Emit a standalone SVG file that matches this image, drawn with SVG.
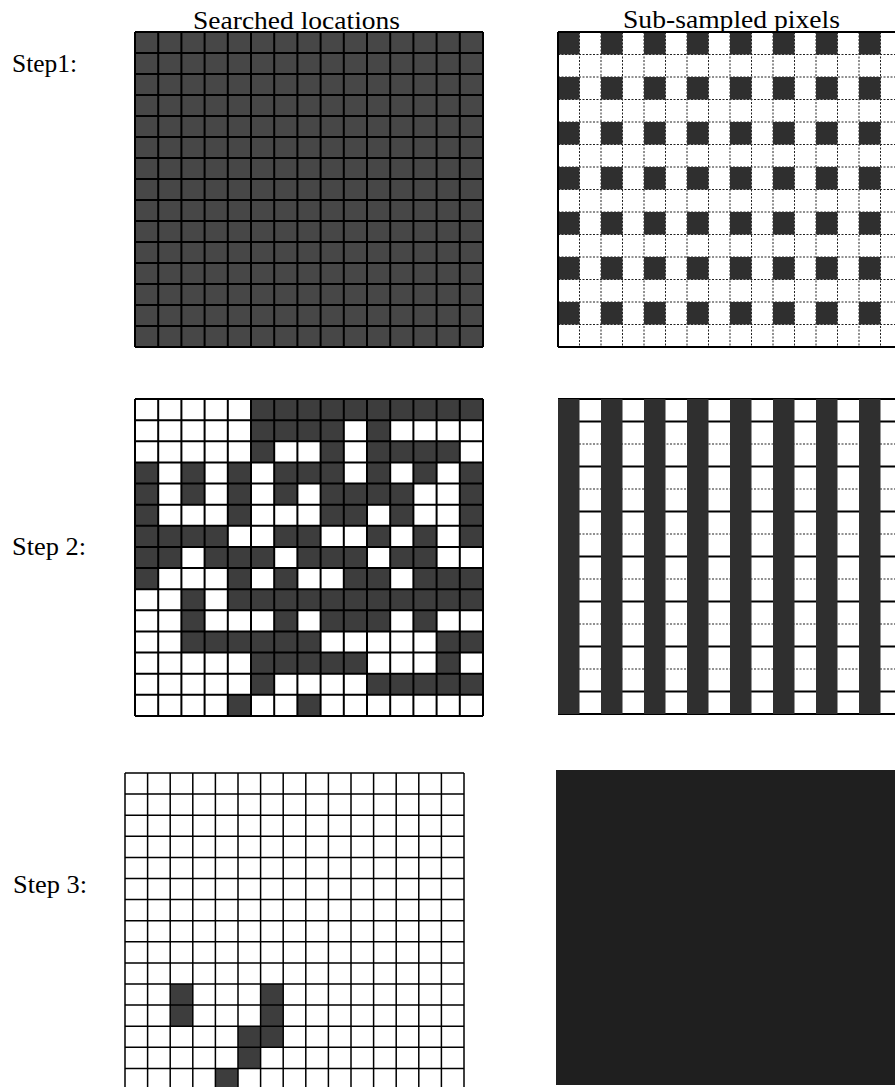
<svg xmlns="http://www.w3.org/2000/svg" width="895" height="1087" viewBox="0 0 895 1087">
<style>
text{font-family:"Liberation Serif","Times New Roman",serif;font-size:26px;fill:#000}
.dk{fill:#3d3d3d}
.dr{fill:#2f2f2f}
.gl{fill:none;stroke:#000;stroke-width:2;vector-effect:non-scaling-stroke}
.gt{fill:none;stroke:#000;stroke-width:1.5;vector-effect:non-scaling-stroke}
.dot{fill:none;stroke:#222;stroke-width:1;stroke-dasharray:2 1.5;vector-effect:non-scaling-stroke}
.sol{fill:none;stroke:#000;stroke-width:2;vector-effect:non-scaling-stroke}
</style>
<rect width="895" height="1087" fill="#fff"/>
<g id="labels">
<text x="193" y="29" textLength="207" lengthAdjust="spacingAndGlyphs">Searched locations</text>
<text x="623" y="28" textLength="217" lengthAdjust="spacingAndGlyphs">Sub-sampled pixels</text>
<text x="12" y="72" textLength="65" lengthAdjust="spacingAndGlyphs">Step1:</text>
<text x="12" y="555" textLength="74" lengthAdjust="spacingAndGlyphs">Step 2:</text>
<text x="13" y="893" textLength="74" lengthAdjust="spacingAndGlyphs">Step 3:</text>
</g>
<g id="step1-searched" transform="translate(135,32) scale(23.2,21)">
<rect x="0" y="0" width="15" height="15" fill="#474747"/>
<path class="gl" d="M0 0H15M0 1H15M0 2H15M0 3H15M0 4H15M0 5H15M0 6H15M0 7H15M0 8H15M0 9H15M0 10H15M0 11H15M0 12H15M0 13H15M0 14H15M0 15H15M0 0V15M1 0V15M2 0V15M3 0V15M4 0V15M5 0V15M6 0V15M7 0V15M8 0V15M9 0V15M10 0V15M11 0V15M12 0V15M13 0V15M14 0V15M15 0V15"/>
</g>
<g id="step1-subsampled" transform="translate(558,32) scale(21.5,22.5)">
<path class="dot" d="M0 1H16M0 2H16M0 3H16M0 4H16M0 5H16M0 6H16M0 7H16M0 8H16M0 9H16M0 10H16M0 11H16M0 12H16M0 13H16M1 0V14M2 0V14M3 0V14M4 0V14M5 0V14M6 0V14M7 0V14M8 0V14M9 0V14M10 0V14M11 0V14M12 0V14M13 0V14M14 0V14M15 0V14"/>
<g class="dr">
<rect x="0" y="0" width="1" height="1"/><rect x="2" y="0" width="1" height="1"/><rect x="4" y="0" width="1" height="1"/><rect x="6" y="0" width="1" height="1"/><rect x="8" y="0" width="1" height="1"/><rect x="10" y="0" width="1" height="1"/><rect x="12" y="0" width="1" height="1"/><rect x="14" y="0" width="1" height="1"/>
<rect x="0" y="2" width="1" height="1"/><rect x="2" y="2" width="1" height="1"/><rect x="4" y="2" width="1" height="1"/><rect x="6" y="2" width="1" height="1"/><rect x="8" y="2" width="1" height="1"/><rect x="10" y="2" width="1" height="1"/><rect x="12" y="2" width="1" height="1"/><rect x="14" y="2" width="1" height="1"/>
<rect x="0" y="4" width="1" height="1"/><rect x="2" y="4" width="1" height="1"/><rect x="4" y="4" width="1" height="1"/><rect x="6" y="4" width="1" height="1"/><rect x="8" y="4" width="1" height="1"/><rect x="10" y="4" width="1" height="1"/><rect x="12" y="4" width="1" height="1"/><rect x="14" y="4" width="1" height="1"/>
<rect x="0" y="6" width="1" height="1"/><rect x="2" y="6" width="1" height="1"/><rect x="4" y="6" width="1" height="1"/><rect x="6" y="6" width="1" height="1"/><rect x="8" y="6" width="1" height="1"/><rect x="10" y="6" width="1" height="1"/><rect x="12" y="6" width="1" height="1"/><rect x="14" y="6" width="1" height="1"/>
<rect x="0" y="8" width="1" height="1"/><rect x="2" y="8" width="1" height="1"/><rect x="4" y="8" width="1" height="1"/><rect x="6" y="8" width="1" height="1"/><rect x="8" y="8" width="1" height="1"/><rect x="10" y="8" width="1" height="1"/><rect x="12" y="8" width="1" height="1"/><rect x="14" y="8" width="1" height="1"/>
<rect x="0" y="10" width="1" height="1"/><rect x="2" y="10" width="1" height="1"/><rect x="4" y="10" width="1" height="1"/><rect x="6" y="10" width="1" height="1"/><rect x="8" y="10" width="1" height="1"/><rect x="10" y="10" width="1" height="1"/><rect x="12" y="10" width="1" height="1"/><rect x="14" y="10" width="1" height="1"/>
<rect x="0" y="12" width="1" height="1"/><rect x="2" y="12" width="1" height="1"/><rect x="4" y="12" width="1" height="1"/><rect x="6" y="12" width="1" height="1"/><rect x="8" y="12" width="1" height="1"/><rect x="10" y="12" width="1" height="1"/><rect x="12" y="12" width="1" height="1"/><rect x="14" y="12" width="1" height="1"/>
</g>
<path class="sol" d="M0 0H16M0 14H16M0 0V14"/>
</g>
<g id="step2-searched" transform="translate(135,399) scale(23.2,21.133)">
<g class="dk">
<rect x="5" y="0" width="10" height="1"/>
<rect x="5" y="1" width="4" height="1"/><rect x="10" y="1" width="1" height="1"/>
<rect x="5" y="2" width="1" height="1"/><rect x="8" y="2" width="1" height="1"/><rect x="10" y="2" width="4" height="1"/>
<rect x="0" y="3" width="1" height="1"/><rect x="2" y="3" width="1" height="1"/><rect x="4" y="3" width="1" height="1"/><rect x="6" y="3" width="3" height="1"/><rect x="10" y="3" width="1" height="1"/><rect x="12" y="3" width="1" height="1"/><rect x="14" y="3" width="1" height="1"/>
<rect x="0" y="4" width="1" height="1"/><rect x="2" y="4" width="1" height="1"/><rect x="4" y="4" width="1" height="1"/><rect x="6" y="4" width="1" height="1"/><rect x="8" y="4" width="4" height="1"/><rect x="14" y="4" width="1" height="1"/>
<rect x="0" y="5" width="1" height="1"/><rect x="4" y="5" width="1" height="1"/><rect x="8" y="5" width="2" height="1"/><rect x="11" y="5" width="1" height="1"/><rect x="14" y="5" width="1" height="1"/>
<rect x="0" y="6" width="4" height="1"/><rect x="6" y="6" width="2" height="1"/><rect x="10" y="6" width="1" height="1"/><rect x="12" y="6" width="1" height="1"/><rect x="14" y="6" width="1" height="1"/>
<rect x="0" y="7" width="2" height="1"/><rect x="3" y="7" width="3" height="1"/><rect x="7" y="7" width="3" height="1"/><rect x="11" y="7" width="2" height="1"/>
<rect x="0" y="8" width="1" height="1"/><rect x="4" y="8" width="1" height="1"/><rect x="6" y="8" width="1" height="1"/><rect x="9" y="8" width="2" height="1"/><rect x="12" y="8" width="3" height="1"/>
<rect x="2" y="9" width="1" height="1"/><rect x="4" y="9" width="11" height="1"/>
<rect x="2" y="10" width="1" height="1"/><rect x="6" y="10" width="1" height="1"/><rect x="8" y="10" width="3" height="1"/><rect x="12" y="10" width="1" height="1"/>
<rect x="2" y="11" width="6" height="1"/><rect x="13" y="11" width="2" height="1"/>
<rect x="5" y="12" width="5" height="1"/><rect x="13" y="12" width="1" height="1"/>
<rect x="5" y="13" width="1" height="1"/><rect x="10" y="13" width="5" height="1"/>
<rect x="4" y="14" width="1" height="1"/><rect x="7" y="14" width="1" height="1"/>
</g>
<path class="gl" d="M0 0H15M0 1H15M0 2H15M0 3H15M0 4H15M0 5H15M0 6H15M0 7H15M0 8H15M0 9H15M0 10H15M0 11H15M0 12H15M0 13H15M0 14H15M0 15H15M0 0V15M1 0V15M2 0V15M3 0V15M4 0V15M5 0V15M6 0V15M7 0V15M8 0V15M9 0V15M10 0V15M11 0V15M12 0V15M13 0V15M14 0V15M15 0V15"/>
</g>
<g id="step2-subsampled" transform="translate(558,399) scale(21.5,22.5)">
<path class="dot" d="M0 2H16M0 4H16M0 6H16M0 8H16M0 10H16M0 12H16"/>
<path class="sol" d="M0 0H16M0 1H16M0 3H16M0 5H16M0 7H16M0 9H16M0 11H16M0 13H16M0 14H16"/>
<g class="dr">
<rect x="0" y="0" width="1" height="14"/><rect x="2" y="0" width="1" height="14"/><rect x="4" y="0" width="1" height="14"/><rect x="6" y="0" width="1" height="14"/><rect x="8" y="0" width="1" height="14"/><rect x="10" y="0" width="1" height="14"/><rect x="12" y="0" width="1" height="14"/><rect x="14" y="0" width="1" height="14"/>
</g>
</g>
<g id="step3-searched" transform="translate(125,773) scale(22.6,21.1)">
<g class="dk">
<rect x="2" y="10" width="1" height="2"/><rect x="6" y="10" width="1" height="3"/><rect x="5" y="12" width="1" height="2"/><rect x="4" y="14" width="1" height="1"/>
</g>
<path class="gt" d="M0 0H15M0 1H15M0 2H15M0 3H15M0 4H15M0 5H15M0 6H15M0 7H15M0 8H15M0 9H15M0 10H15M0 11H15M0 12H15M0 13H15M0 14H15M0 0V15M1 0V15M2 0V15M3 0V15M4 0V15M5 0V15M6 0V15M7 0V15M8 0V15M9 0V15M10 0V15M11 0V15M12 0V15M13 0V15M14 0V15M15 0V15"/>
</g>
<g id="step3-subsampled">
<rect x="556" y="770" width="339" height="315" fill="#1f1f1f"/>
</g>
</svg>
